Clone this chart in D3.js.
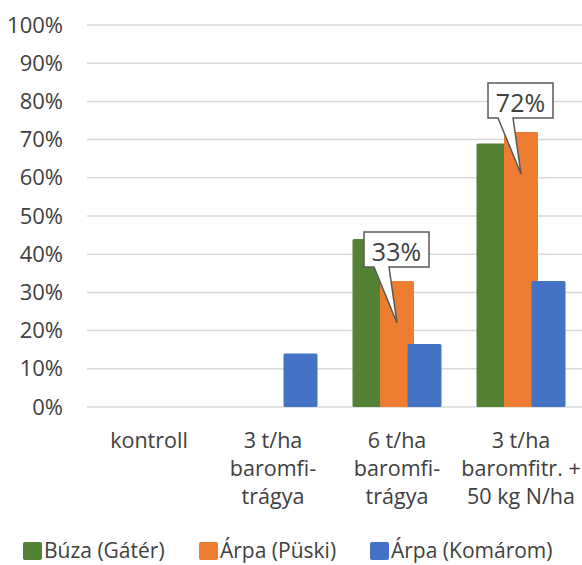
<!DOCTYPE html>
<html>
<head>
<meta charset="utf-8">
<script src="https://cdn.jsdelivr.net/npm/d3@7/dist/d3.min.js"></script>
<style>
  body { margin: 0; background: #fff; }
  svg { display: block; }
  text { font-family: "Open Sans", sans-serif; fill: #404040; }
</style>
</head>
<body>
<svg id="chart"></svg>
<script>
const categories = [
  ["kontroll"],
  ["3 t/ha", "baromfi-", "trágya"],
  ["6 t/ha", "baromfi-", "trágya"],
  ["3 t/ha", "baromfitr. +", "50 kg N/ha"]
];
const seriesNames = ["Búza (Gátér)", "Árpa (Püski)", "Árpa (Komárom)"];
const seriesColors = ["#548235", "#ed7d31", "#4472c4"];
const buza = [0, 0, 0.44, 0.69];
const arpaPuski = [0, 0, 0.33, 0.72];
const arpaKomarom = [0, 0.14, 0.165, 0.33];
const yTicks = [0, 0.1, 0.2, 0.3, 0.4, 0.5, 0.6, 0.7, 0.8, 0.9, 1];
// callouts point at the orange bars
const callouts = [
  { cat: 2, series: 1, label: "33%" },
  { cat: 3, series: 1, label: "72%" }
];

const W = 582, H = 565;
const margin = { top: 25, right: -1, bottom: 158, left: 87 };
const barWidth = 34, barStep = 27.5;

const svg = d3.select("#chart").attr("width", W).attr("height", H);

const keys = categories.map((_, i) => i);
const x = d3.scaleBand().domain(keys).range([margin.left, W - margin.right]).padding(0);
const x1 = d3.scalePoint().domain([0, 1, 2]).range([-barStep, barStep]);
const y = d3.scaleLinear().domain([0, 1]).range([H - margin.bottom, margin.top]);

const values = [buza, arpaPuski, arpaKomarom];

// gridlines
svg.append("g")
  .selectAll("line")
  .data(yTicks)
  .join("line")
  .attr("x1", margin.left)
  .attr("x2", W)
  .attr("y1", d => y(d))
  .attr("y2", d => y(d))
  .attr("stroke", "#d9d9d9")
  .attr("stroke-width", 1.5);

// y axis labels
const yAxis = d3.axisLeft(y).tickValues(yTicks).tickFormat(d3.format(".0%")).tickSize(0).tickPadding(0);
svg.append("g")
  .attr("transform", `translate(63,0)`)
  .call(yAxis)
  .call(g => g.select(".domain").remove())
  .call(g => g.selectAll("text")
    .attr("font-size", 22)
    .attr("font-family", "'Open Sans', sans-serif")
    .attr("fill", "#404040"));

// bars
const barData = [];
values.forEach((vals, s) => vals.forEach((v, c) => barData.push({ s, c, v })));
svg.append("g")
  .selectAll("rect")
  .data(barData.filter(d => d.v > 0))
  .join("rect")
  .attr("x", d => x(d.c) + x.bandwidth() / 2 + x1(d.s) - barWidth / 2)
  .attr("y", d => y(d.v))
  .attr("width", barWidth)
  .attr("height", d => y(0) - y(d.v))
  .attr("rx", 1.5)
  .attr("fill", d => seriesColors[d.s]);

// callouts
callouts.forEach(co => {
  const v = values[co.series][co.cat];
  const px = x(co.cat) + x.bandwidth() / 2 + x1(co.series);
  const py = y(v) + 42;
  const bw = 65, bh = 35;
  const left = px - 33, bottom = py - 56, top = bottom - bh;
  const g = svg.append("g");
  g.append("path")
    .attr("d", `M${left},${top} H${left + bw} V${bottom} H${left + 25} L${px},${py} L${left + 10},${bottom} H${left} Z`)
    .attr("fill", "#fff")
    .attr("stroke", "#595959")
    .attr("stroke-width", 1.5)
    .attr("stroke-linejoin", "miter");
  g.append("text")
    .attr("x", left + bw / 2)
    .attr("y", bottom - 6)
    .attr("font-size", 25)
    .attr("text-anchor", "middle")
    .attr("fill", "#262626")
    .text(co.label);
});

// category labels
const catG = svg.append("g").selectAll("text")
  .data(categories)
  .join("text")
  .attr("text-anchor", "middle")
  .attr("font-size", 21.5)
  .attr("transform", (d, i) => `translate(${x(i) + x.bandwidth() / 2},448)`);
catG.selectAll("tspan")
  .data(d => d)
  .join("tspan")
  .attr("x", 0)
  .attr("dy", (d, i) => i === 0 ? 0 : 28)
  .text(d => d);

// legend
const legendX = [23, 199, 370];
const leg = svg.append("g").selectAll("g")
  .data(seriesNames)
  .join("g")
  .attr("transform", (d, i) => `translate(${legendX[i]},542)`);
leg.append("rect")
  .attr("width", 19).attr("height", 18).attr("rx", 2)
  .attr("fill", (d, i) => seriesColors[i]);
leg.append("text")
  .attr("x", 21).attr("y", 16)
  .attr("font-size", 21)
  .text(d => d);
</script>
</body>
</html>
